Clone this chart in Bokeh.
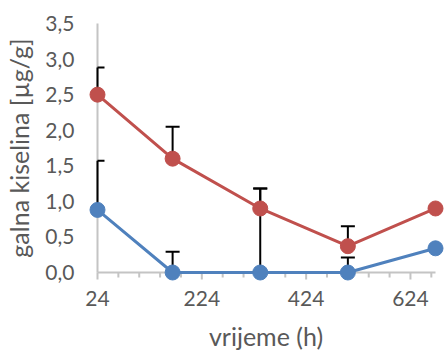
from bokeh.plotting import figure
from bokeh.models import FixedTicker, Range1d, CustomJSTickFormatter
from bokeh.embed import file_html
from bokeh.resources import INLINE

# ---- data ----
hours = [24, 168, 336, 504, 672]
red_vals = [2.50, 1.60, 0.90, 0.37, 0.90]
red_err = [0.38, 0.45, 0.28, 0.28, 0.0]
blue_vals = [0.88, 0.0, 0.0, 0.0, 0.34]
blue_err = [0.69, 0.29, 1.18, 0.21, 0.0]
x_ticks = [24, 224, 424, 624]
x_minor = [24 + 40 * i for i in range(17) if (40 * i) % 200 != 0]
y_ticks = [0.0, 0.5, 1.0, 1.5, 2.0, 2.5, 3.0, 3.5]
x_title = "vrijeme (h)"
y_title = "galna kiselina [µg/g]"

RED = "#C0504D"
BLUE = "#4F81BD"
GRAY_TXT = "#595959"
AXIS = "#C4C4C4"
FONT = "Lato"

# ---- layout (figure pixel coordinates) ----
W, H = 444, 360
X0, X1 = 24, 672          # axis extent
Y0, Y1 = 0.0, 3.5
AX_LEFT, AX_RIGHT = 97, 435   # pixel of x=24 and x=672
AX_TOP, AX_BOT = 23, 272      # pixel of y=3.5 and y=0
FR_LEFT, FR_RIGHT = 87, W
FR_TOP, FR_BOT = 13, 282

pxx = (AX_RIGHT - AX_LEFT) / (X1 - X0)
pxy = (AX_BOT - AX_TOP) / (Y1 - Y0)
xr = Range1d(X0 - (AX_LEFT - FR_LEFT) / pxx, X1 + (FR_RIGHT - AX_RIGHT) / pxx)
yr = Range1d(Y0 - (FR_BOT - AX_BOT) / pxy, Y1 + (AX_TOP - FR_TOP) / pxy)

p = figure(width=W, height=H, x_range=xr, y_range=yr,
           output_backend="svg", toolbar_location=None,
           min_border_left=FR_LEFT, min_border_right=W - FR_RIGHT,
           min_border_top=FR_TOP, min_border_bottom=H - FR_BOT)
p.outline_line_color = None
p.grid.visible = False
p.background_fill_color = "white"
p.border_fill_color = "white"

# real axes: labels only
xa = p.xaxis[0]
xa.bounds = (X0, X1)
xa.ticker = FixedTicker(ticks=x_ticks, minor_ticks=[])
xa.axis_line_color = None
xa.major_tick_line_color = None
xa.minor_tick_line_color = None
xa.major_tick_in = 0
xa.major_tick_out = 0
xa.minor_tick_in = 0
xa.minor_tick_out = 0
xa.major_label_standoff = 8
xa.major_label_text_font = FONT
xa.major_label_text_font_size = "21px"
xa.major_label_text_color = GRAY_TXT
xa.axis_label = x_title
xa.axis_label_standoff = 12
xa.axis_label_text_font = FONT
xa.axis_label_text_font_size = "25px"
xa.axis_label_text_font_style = "normal"
xa.axis_label_text_color = GRAY_TXT

ya = p.yaxis[0]
ya.bounds = (Y0, 3.72)
ya.ticker = FixedTicker(ticks=y_ticks, minor_ticks=[])
ya.formatter = CustomJSTickFormatter(code="return tick.toFixed(1).replace('.', ',');")
ya.axis_line_color = None
ya.major_tick_line_color = None
ya.minor_tick_line_color = None
ya.major_tick_in = 0
ya.major_tick_out = 0
ya.minor_tick_in = 0
ya.minor_tick_out = 0
ya.major_label_standoff = 13
ya.major_label_text_font = FONT
ya.major_label_text_font_size = "21px"
ya.major_label_text_color = GRAY_TXT
ya.axis_label = y_title
ya.axis_label_standoff = 8
ya.axis_label_text_font = FONT
ya.axis_label_text_font_size = "25px"
ya.axis_label_text_font_style = "normal"
ya.axis_label_text_color = GRAY_TXT

# drawn axis lines and tick marks
p.segment(x0=[X0, X0], y0=[Y0, Y0], x1=[X1, X0], y1=[Y0, Y1], line_color=AXIS, line_width=2)
p.segment(x0=x_ticks, y0=[Y0] * len(x_ticks), x1=x_ticks, y1=[Y0 - 7 / pxy] * len(x_ticks),
          line_color=AXIS, line_width=2)
p.segment(x0=x_minor, y0=[Y0] * len(x_minor), x1=x_minor, y1=[Y0 - 5 / pxy] * len(x_minor),
          line_color=AXIS, line_width=2)

# error bars
CAP_PX = 7
cap = CAP_PX / pxx
for vals, errs in ((blue_vals, blue_err), (red_vals, red_err)):
    tops = [v + e for v, e in zip(vals, errs)]
    p.segment(x0=hours, y0=vals, x1=hours, y1=tops, line_color="black", line_width=2)
    p.segment(x0=[max(h - cap, X0) for h in hours], y0=tops,
              x1=[h + cap for h in hours], y1=tops, line_color="black", line_width=2)

# series
p.line(hours, blue_vals, line_color=BLUE, line_width=3)
p.scatter(hours, blue_vals, size=15, fill_color=BLUE, line_color=BLUE)
p.line(hours, red_vals, line_color=RED, line_width=3)
p.scatter(hours, red_vals, size=15, fill_color=RED, line_color=RED)

open("out.html", "w").write(file_html(p, INLINE))
